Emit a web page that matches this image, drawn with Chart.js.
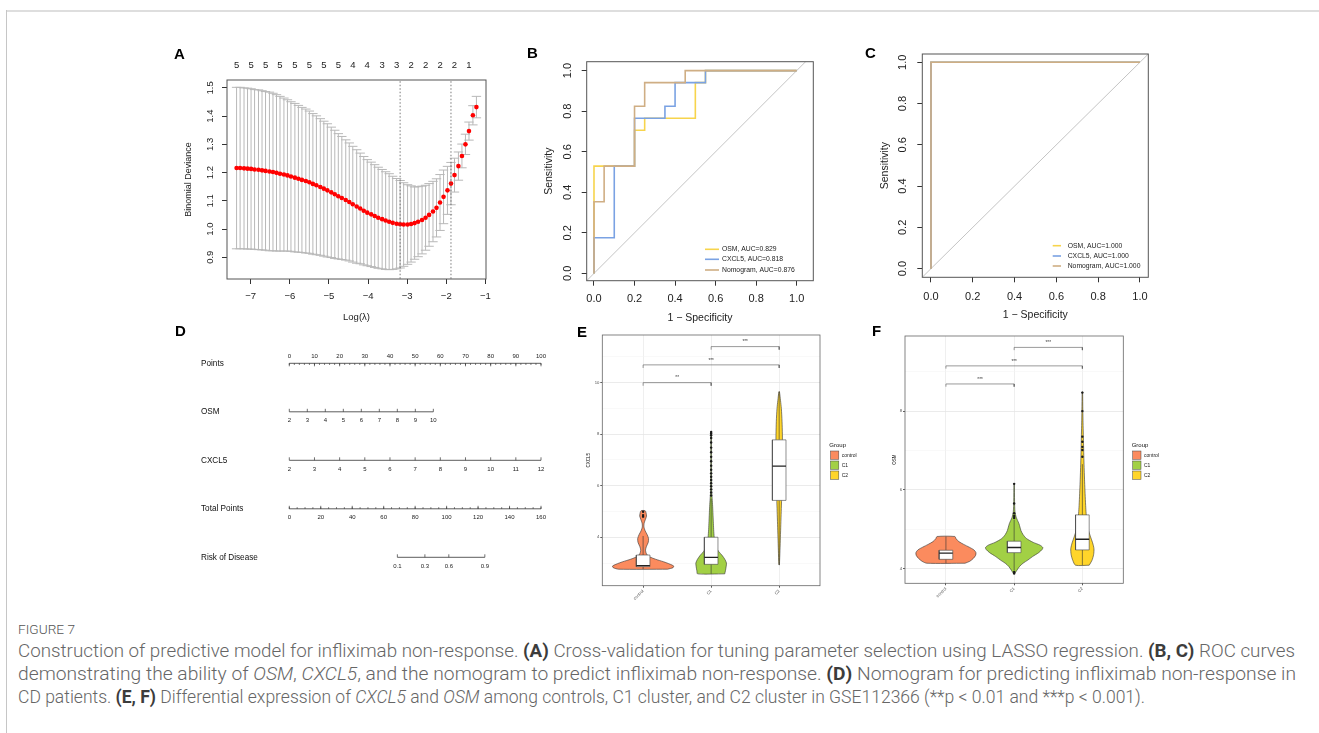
<!DOCTYPE html>
<html>
<head>
<meta charset="utf-8">
<title>Figure 7</title>
<script src="https://cdn.jsdelivr.net/npm/chart.js@4.4.1/dist/chart.umd.min.js"></script>
<style>
  html, body { margin: 0; padding: 0; background: #fff; }
  body { position: relative; width: 1319px; height: 733px; overflow: hidden; font-family: "Liberation Sans", Arial, sans-serif; }
  canvas { position: absolute; }
  .rule-top { position: absolute; left: 6px; top: 10px; width: 1313px; height: 2px; background: #dedede; }
  .rule-left { position: absolute; left: 6px; top: 10px; width: 1px; height: 723px; background: #c6c6c6; }
  .tag { position: absolute; font: bold 15px "Liberation Sans", Arial, sans-serif; line-height: 15px; color: #000; }
  #cap { position: absolute; left: 18px; top: 620px; color: #666; }
  #cap .fig { font: 300 13px Roboto, "Noto Sans", sans-serif; color: #555; white-space: nowrap; width: max-content; height: 20px; line-height: 20px; transform-origin: 0 50%; }
  #cap .ln { font: 300 17.5px Roboto, "Noto Sans", sans-serif; white-space: nowrap; width: max-content; line-height: 23px; transform-origin: 0 50%; }
  #cap .ln:first-of-type { margin-top: 2.5px; }
  #cap b { color: #3c3c3c; font-weight: 700; }
</style>
</head>
<body>
<div class="rule-top"></div>
<div class="rule-left"></div>

<canvas id="cA" width="340" height="290" style="left:160px;top:40px"></canvas>
<canvas id="cB" width="320" height="290" style="left:520px;top:40px"></canvas>
<canvas id="cC" width="320" height="290" style="left:860px;top:40px"></canvas>
<canvas id="cD" width="390" height="260" style="left:170px;top:330px"></canvas>
<canvas id="cE" width="300" height="280" style="left:570px;top:325px"></canvas>
<canvas id="cF" width="300" height="280" style="left:860px;top:325px"></canvas>

<div class="tag" style="left:174px;top:46px">A</div>
<div class="tag" style="left:527px;top:45px">B</div>
<div class="tag" style="left:865px;top:45px">C</div>
<div class="tag" style="left:175px;top:323px">D</div>
<div class="tag" style="left:577px;top:324px">E</div>
<div class="tag" style="left:872px;top:323px">F</div>

<div id="cap">
  <div class="fig">FIGURE 7</div>
  <div class="ln">Construction of predictive model for infliximab non-response. <b>(A)</b> Cross-validation for tuning parameter selection using LASSO regression. <b>(B, C)</b> ROC curves</div>
  <div class="ln">demonstrating the ability of <i>OSM</i>, <i>CXCL5</i>, and the nomogram to predict infliximab non-response. <b>(D)</b> Nomogram for predicting infliximab non-response in</div>
  <div class="ln">CD patients. <b>(E, F)</b> Differential expression of <i>CXCL5</i> and <i>OSM</i> among controls, C1 cluster, and C2 cluster in GSE112366 (**p &lt; 0.01 and ***p &lt; 0.001).</div>
</div>

<script>
// ---- A: LASSO cross-validation ----
const logLambda = [-7.36,-7.27,-7.17,-7.08,-6.99,-6.90,-6.80,-6.71,-6.62,-6.52,
  -6.43,-6.34,-6.25,-6.15,-6.06,-5.97,-5.87,-5.78,-5.69,-5.59,
  -5.50,-5.41,-5.32,-5.22,-5.13,-5.04,-4.94,-4.85,-4.76,-4.67,
  -4.57,-4.48,-4.39,-4.29,-4.20,-4.11,-4.02,-3.92,-3.83,-3.74,
  -3.64,-3.55,-3.46,-3.37,-3.27,-3.18,-3.09,-2.99,-2.90,-2.81,
  -2.72,-2.62,-2.53,-2.44,-2.34,-2.25,-2.16,-2.07,-1.97,-1.88,
  -1.79,-1.69,-1.60,-1.51,-1.42,-1.32,-1.23];
const cvm = [1.216,1.216,1.215,1.214,1.213,1.211,1.210,1.208,1.206,1.204,
  1.202,1.199,1.196,1.193,1.190,1.186,1.182,1.178,1.174,1.170,
  1.166,1.160,1.155,1.149,1.143,1.137,1.130,1.123,1.116,1.110,
  1.103,1.096,1.088,1.080,1.073,1.065,1.058,1.052,1.046,1.040,
  1.035,1.030,1.026,1.022,1.019,1.017,1.016,1.016,1.018,1.021,
  1.026,1.032,1.040,1.050,1.062,1.075,1.094,1.114,1.137,1.161,
  1.191,1.223,1.259,1.300,1.347,1.403,1.432];
const cvsd = [0.286,0.286,0.285,0.285,0.284,0.283,0.283,0.282,0.281,0.281,
  0.279,0.277,0.274,0.271,0.268,0.265,0.263,0.260,0.257,0.255,
  0.252,0.249,0.246,0.242,0.239,0.236,0.231,0.227,0.222,0.218,
  0.213,0.209,0.205,0.201,0.196,0.192,0.188,0.185,0.182,0.179,
  0.176,0.173,0.170,0.165,0.160,0.155,0.148,0.141,0.135,0.128,
  0.124,0.120,0.115,0.111,0.107,0.103,0.099,0.095,0.085,0.075,
  0.060,0.050,0.042,0.036,0.032,0.034,0.038];
const nzeroAt = [-7.36,-6.99,-6.62,-6.25,-5.87,-5.50,-5.13,-4.76,-4.39,-4.02,-3.64,-3.27,-2.90,-2.53,-2.16,-1.79,-1.42];
const nzeroTop = [5,5,5,5,5,5,5,5,4,4,3,3,2,2,2,2,1];
const lambdaMinLog = -3.18;
const lambda1seLog = -1.88;
const aXTicks = [-7,-6,-5,-4,-3,-2,-1];
const aYTicks = [0.9,1.0,1.1,1.2,1.3,1.4,1.5];

// ---- B, C: ROC curves (x = 1 - specificity, y = sensitivity) ----
const rocLabelsB = ['OSM, AUC=0.829','CXCL5, AUC=0.818','Nomogram, AUC=0.876'];
const osmFprB = [0,0,0.2,0.2,0.25,0.25,0.5,0.5,0.55,0.55,1];
const osmTprB = [0,0.529,0.529,0.706,0.706,0.765,0.765,0.941,0.941,1,1];
const cxclFprB = [0,0,0.1,0.1,0.2,0.2,0.35,0.35,0.4,0.4,0.55,0.55,1];
const cxclTprB = [0,0.176,0.176,0.529,0.529,0.765,0.765,0.824,0.824,0.941,0.941,1,1];
const nomoFprB = [0,0,0.05,0.05,0.2,0.2,0.25,0.25,0.45,0.45,1];
const nomoTprB = [0,0.353,0.353,0.529,0.529,0.824,0.824,0.941,0.941,1,1];
const rocLabelsC = ['OSM, AUC=1.000','CXCL5, AUC=1.000','Nomogram, AUC=1.000'];
const osmFprC = [0,0,1], osmTprC = [0,1,1];
const cxclFprC = [0,0,1], cxclTprC = [0,1,1];
const nomoFprC = [0,0,1], nomoTprC = [0,1,1];
const rocTicks = [0,0.2,0.4,0.6,0.8,1.0];

// ---- D: nomogram ----
const nomoRows = ['Points','OSM','CXCL5','Total Points','Risk of Disease'];
const pointsTicks = [0,10,20,30,40,50,60,70,80,90,100];
const osmTicks = [2,3,4,5,6,7,8,9,10];
const cxclTicks = [2,3,4,5,6,7,8,9,10,11,12];
const totalTicks = [0,20,40,60,80,100,120,140,160];
const riskLabels = [0.1,0.3,0.6,0.9];
const riskAtTotal = [68.7,86.2,101.4,124.3];

// ---- E, F: violins ----
const groups = ['control','C1','C2'];
const cxclDensControl = [[2.76,0.36],[2.82,0.44],[2.88,0.45],[2.95,0.40],[3.05,0.30],[3.15,0.18],[3.25,0.09],[3.35,0.05],[3.5,0.035],[3.65,0.05],[3.8,0.075],[3.95,0.08],[4.1,0.06],[4.25,0.03],[4.4,0.012],[4.55,0.015],[4.7,0.035],[4.82,0.05],[4.93,0.045],[5.03,0.03]];
const cxclDensC1 = [[2.58,0.20],[2.7,0.21],[2.85,0.22],[3.0,0.225],[3.15,0.2],[3.3,0.16],[3.45,0.11],[3.6,0.075],[3.8,0.055],[4.0,0.045],[4.3,0.037],[4.6,0.032],[4.9,0.027],[5.2,0.022],[5.5,0.015],[5.8,0.008],[6.5,0.006],[7.2,0.006],[7.8,0.005],[8.09,0.004]];
const cxclDensC2 = [[2.93,0.004],[3.5,0.012],[4.0,0.018],[4.5,0.024],[5.0,0.03],[5.5,0.036],[6.0,0.042],[6.5,0.045],[7.0,0.047],[7.5,0.048],[8.0,0.047],[8.5,0.042],[9.0,0.032],[9.3,0.02],[9.65,0.004]];
const cxclBox = [[2.76,2.86,2.90,3.31,4.05],[2.58,2.95,3.22,4.00,5.50],[2.93,5.43,6.76,7.78,9.65]];
const cxclOutControl = [4.80,4.86,4.99];
const cxclOutC1 = [5.62,5.74,5.86,5.98,6.10,6.22,6.35,6.48,6.62,6.78,6.95,7.12,7.30,7.48,7.68,7.85,7.96,8.03,8.09];
const cxclOutC2 = [];
const cxclSig = [[1,2,10.0,'**'],[1,3,10.69,'***'],[2,3,11.4,'***']];
const cxclYGrid = [3,4,5,6,7,8,9,10,11];

const osmDensControl = [[4.13,0.28],[4.18,0.35],[4.25,0.40],[4.33,0.435],[4.40,0.44],[4.47,0.41],[4.54,0.34],[4.61,0.26],[4.68,0.19],[4.75,0.15],[4.81,0.13]];
const osmDensC1 = [[3.87,0.01],[3.95,0.04],[4.05,0.08],[4.13,0.13],[4.21,0.2],[4.3,0.27],[4.4,0.36],[4.48,0.41],[4.53,0.42],[4.59,0.38],[4.66,0.28],[4.76,0.18],[4.86,0.13],[4.96,0.1],[5.05,0.085],[5.14,0.07],[5.22,0.05],[5.3,0.03],[5.45,0.012],[5.7,0.006],[6.15,0.003]];
const osmDensC2 = [[4.08,0.10],[4.2,0.14],[4.35,0.165],[4.5,0.17],[4.65,0.15],[4.8,0.12],[5.0,0.085],[5.2,0.065],[5.4,0.055],[5.6,0.048],[5.9,0.04],[6.2,0.033],[6.5,0.027],[6.8,0.022],[7.1,0.018],[7.4,0.014],[7.7,0.01],[8.0,0.007],[8.49,0.003]];
const osmBox = [[4.13,4.23,4.39,4.46,4.81],[3.95,4.40,4.53,4.69,5.23],[4.08,4.47,4.74,5.36,6.65]];
const osmOutControl = [];
const osmOutC1 = [3.87,3.91,5.28,5.33,5.40,5.65,6.15];
const osmOutC2 = [6.84,7.01,7.09,7.22,7.35,8.00,8.47];
const osmSig = [[1,2,8.69,'***'],[1,3,9.15,'***'],[2,3,9.62,'***']];
const osmYGrid = [4,5,6,7,8,9];

// ---- styles ----
const FONT = '"Liberation Sans", Arial, sans-serif';
const rocColors = ['#F7D44C','#7AA2E3','#CFAE84'];
const groupColors = ['#FB8B5E','#A2D045','#FFD52A'];

Chart.defaults.animation = false;
Chart.defaults.font.family = FONT;
Chart.defaults.color = '#222';
Chart.defaults.plugins.legend.display = false;
Chart.defaults.plugins.tooltip.enabled = false;
Chart.defaults.elements.point.radius = 0;
Chart.defaults.elements.line.tension = 0;

const fixW = w => s => { s.width = w; };
const fixH = h => s => { s.height = h; };
const setTicks = arr => s => { s.ticks = arr.map(v => ({ value: v })); };
const xy = (xs, ys) => xs.map((x, i) => ({ x, y: ys[i] }));

// box around the plotting region
const boxFrame = {
  id: 'boxFrame',
  afterDraw(chart, args, o) {
    if (!o.color) return;
    const a = chart.chartArea, c = chart.ctx;
    c.save();
    c.strokeStyle = o.color;
    c.lineWidth = o.width || 1;
    c.strokeRect(a.left, a.top, a.right - a.left, a.bottom - a.top);
    c.restore();
  }
};

// R style y labels (rotated, reading upwards)
const rotY = {
  id: 'rotY',
  afterDraw(chart, args, o) {
    if (o.x == null) return;
    const s = chart.scales.y, c = chart.ctx;
    c.save();
    c.font = o.font;
    c.fillStyle = '#222';
    c.textAlign = 'center';
    c.textBaseline = 'middle';
    s.ticks.forEach(t => {
      c.save();
      c.translate(o.x, s.getPixelForValue(t.value));
      c.rotate(-Math.PI / 2);
      c.fillText(t.value.toFixed(1), 0, 0);
      c.restore();
    });
    c.restore();
  }
};

const rocLegend = {
  id: 'rocLegend',
  afterDraw(chart, args, o) {
    if (!o.labels) return;
    const a = chart.chartArea, c = chart.ctx;
    c.save();
    c.font = o.font;
    c.textBaseline = 'middle';
    c.fillStyle = '#222';
    o.labels.forEach((t, i) => {
      const y = a.bottom + o.dy[i];
      c.strokeStyle = rocColors[i];
      c.lineWidth = 1.6;
      c.beginPath();
      c.moveTo(a.right + o.x0, y);
      c.lineTo(a.right + o.x1, y);
      c.stroke();
      c.fillText(t, a.right + o.tx, y);
    });
    c.restore();
  }
};

const nomoTicks = {
  id: 'nomoTicks',
  afterDatasetsDraw(chart, args, o) {
    if (!o.axes) return;
    const c = chart.ctx, ys = chart.scales.y;
    c.save();
    c.strokeStyle = '#333';
    c.fillStyle = '#222';
    c.lineWidth = 0.7;
    c.font = '6px ' + FONT;
    c.textAlign = 'center';
    c.textBaseline = 'middle';
    const seg = (x, y1, y2) => { c.beginPath(); c.moveTo(x, y1); c.lineTo(x, y2); c.stroke(); };
    o.axes.forEach(a => {
      const s = chart.scales[a.sc], y = ys.getPixelForValue(a.row);
      const dir = a.above ? 1 : -1;
      if (a.minorStep) {
        for (let v = a.at[0]; v <= a.at[a.at.length - 1] + 1e-9; v += a.minorStep) {
          seg(s.getPixelForValue(v), y, y + dir * 1.6);
        }
      }
      a.at.forEach((v, i) => {
        const x = s.getPixelForValue(v);
        seg(x, y, y + dir * 3);
        c.fillText(String(a.lab[i]), x, a.above ? y - 6.6 : y + 9);
      });
    });
    c.restore();
  }
};

const violinExtras = {
  id: 'violinExtras',
  afterDraw(chart, args, o) {
    if (!o.sig) return;
    const c = chart.ctx, xs = chart.scales.x, ys = chart.scales.y, a = chart.chartArea;
    c.save();
    c.fillStyle = '#333';
    c.font = '4.6px ' + FONT;
    c.textAlign = 'center';
    c.textBaseline = 'middle';
    o.sig.forEach(([g1, g2, y, txt]) => {
      c.fillText(txt, xs.getPixelForValue((g1 + g2) / 2), ys.getPixelForValue(y) - 4.5);
    });
    // legend
    c.textAlign = 'left';
    c.fillStyle = '#111';
    c.font = '6px ' + FONT;
    c.fillText('Group', a.right + o.titleX, 120);
    c.font = '5px ' + FONT;
    groups.forEach((g, i) => {
      const top = 126 + i * 10;
      c.fillStyle = groupColors[i];
      c.fillRect(a.right + o.keyX, top, 8.3, 8.3);
      c.strokeStyle = '#444';
      c.lineWidth = 0.5;
      c.strokeRect(a.right + o.keyX, top, 8.3, 8.3);
      c.fillStyle = '#222';
      c.fillText(g, a.right + o.labX, top + 4.3);
    });
    c.restore();
  }
};

Chart.register(boxFrame, rotY, rocLegend, nomoTicks, violinExtras);

// ---------- A ----------
const barW = 0.12;
const errData = [];
logLambda.forEach((x, i) => {
  const up = cvm[i] + cvsd[i], lo = cvm[i] - cvsd[i];
  errData.push({ x, y: lo }, { x, y: up }, { x, y: null },
    { x: x - barW, y: up }, { x: x + barW, y: up }, { x, y: null },
    { x: x - barW, y: lo }, { x: x + barW, y: lo }, { x, y: null });
});
const vline = v => [{ x: v, y: 0.7 }, { x: v, y: 1.7 }];

new Chart(document.getElementById('cA'), {
  type: 'line',
  data: {
    datasets: [
      { data: vline(lambdaMinLog), borderColor: '#555', borderWidth: 0.8, borderDash: [1.5, 2] },
      { data: vline(lambda1seLog), borderColor: '#555', borderWidth: 0.8, borderDash: [1.5, 2] },
      { data: xy(logLambda, cvm), showLine: false, pointRadius: 2.3, pointBackgroundColor: '#ff0000', pointBorderWidth: 0 },
      { data: errData, borderColor: '#b8b8b8', borderWidth: 1 }
    ]
  },
  options: {
    responsive: false,
    layout: { padding: { right: 14 } },
    scales: {
      x: {
        type: 'linear', min: -7.605, max: -0.985,
        afterBuildTicks: setTicks(aXTicks), afterFit: fixH(51),
        grid: { drawOnChartArea: false, tickLength: 5, tickColor: '#333' },
        border: { display: false },
        ticks: { font: { size: 9.5 }, padding: 6.7, color: '#222', callback: v => String(v).replace('-', '\u2212') },
        title: { display: true, text: 'Log(\u03bb)', font: { size: 9.5 }, color: '#222', padding: { top: 0, bottom: 7.3 } }
      },
      x2: {
        type: 'linear', position: 'top', min: -7.605, max: -0.985,
        afterBuildTicks: setTicks(nzeroAt), afterFit: fixH(40),
        grid: { display: false, drawTicks: false },
        border: { display: false },
        ticks: { font: { size: 9.5 }, padding: 9, color: '#222', autoSkip: false, maxRotation: 0, callback: (v, i) => nzeroTop[i] }
      },
      y: {
        type: 'linear', min: 0.823, max: 1.528,
        afterBuildTicks: setTicks(aYTicks), afterFit: fixW(67),
        grid: { drawOnChartArea: false, tickLength: 5, tickColor: '#333' },
        border: { display: false },
        ticks: { display: false },
        title: { display: true, text: 'Binomial Deviance', font: { size: 9 }, color: '#222', padding: { top: 23.6, bottom: 0 } }
      }
    },
    plugins: { boxFrame: { color: '#555' }, rotY: { x: 50, font: '9.5px ' + FONT } }
  }
});

// ---------- B, C ----------
function rocChart(id, cfg) {
  new Chart(document.getElementById(id), {
    type: 'line',
    data: {
      datasets: [
        { data: xy(cfg.nomo[0], cfg.nomo[1]), borderColor: rocColors[2], borderWidth: 1.6 },
        { data: xy(cfg.cxcl[0], cfg.cxcl[1]), borderColor: rocColors[1], borderWidth: 1.6 },
        { data: xy(cfg.osm[0], cfg.osm[1]), borderColor: rocColors[0], borderWidth: 1.6 },
        { data: [{ x: -0.2, y: -0.2 }, { x: 1.2, y: 1.2 }], borderColor: '#bdbdbd', borderWidth: 0.9 }
      ]
    },
    options: {
      responsive: false,
      layout: { padding: { top: cfg.top, right: cfg.right } },
      scales: {
        x: {
          type: 'linear', min: cfg.xr[0], max: cfg.xr[1],
          afterBuildTicks: setTicks(rocTicks), afterFit: fixH(cfg.xh),
          grid: { drawOnChartArea: false, tickLength: 5, tickColor: '#333' },
          border: { display: false },
          ticks: { font: { size: 11 }, padding: cfg.xpad, color: '#222', callback: v => v.toFixed(1) },
          title: { display: true, text: '1 \u2212 Specificity', font: { size: 10.5 }, color: '#222', padding: { top: 0, bottom: cfg.xtpad } }
        },
        y: {
          type: 'linear', min: cfg.yr[0], max: cfg.yr[1],
          afterBuildTicks: setTicks(rocTicks), afterFit: fixW(cfg.yw),
          grid: { drawOnChartArea: false, tickLength: 5, tickColor: '#333' },
          border: { display: false },
          ticks: { display: false },
          title: { display: true, text: 'Sensitivity', font: { size: 10.5 }, color: '#222', padding: { top: cfg.ytpad, bottom: 0 } }
        }
      },
      plugins: {
        boxFrame: { color: '#555' },
        rotY: { x: cfg.ylx, font: '11px ' + FONT },
        rocLegend: { labels: cfg.labels, font: '6.8px ' + FONT, x0: cfg.lg[0], x1: cfg.lg[1], tx: cfg.lg[2], dy: cfg.lgy }
      }
    }
  });
}

rocChart('cB', {
  osm: [osmFprB, osmTprB], cxcl: [cxclFprB, cxclTprB], nomo: [nomoFprB, nomoTprB], labels: rocLabelsB,
  xr: [-0.036, 1.082], yr: [-0.036, 1.044], top: 21.7, right: 26.7, xh: 49.3, yw: 66.7,
  xpad: 7, xtpad: 5.7, ytpad: 22.7, ylx: 48.3,
  lg: [-108.3, -94.3, -91.3], lgy: [-31.4, -21.4, -10.7]
});
rocChart('cC', {
  osm: [osmFprC, osmTprC], cxcl: [cxclFprC, cxclTprC], nomo: [nomoFprC, nomoTprC], labels: rocLabelsC,
  xr: [-0.0415, 1.04], yr: [-0.042, 1.04], top: 14, right: 31.7, xh: 52.7, yw: 62.3,
  xpad: 7.8, xtpad: 8.7, ytpad: 18.7, ylx: 42.7,
  lg: [-95.6, -87.3, -80.6], lgy: [-31.6, -21.3, -11.3]
});

// ---------- D ----------
const nomoAxes = [
  { sc: 'pts', row: 0, at: pointsTicks, lab: pointsTicks, minorStep: 2, above: true },
  { sc: 'osm', row: 1, at: osmTicks, lab: osmTicks },
  { sc: 'cx', row: 2, at: cxclTicks, lab: cxclTicks },
  { sc: 'tot', row: 3, at: totalTicks, lab: totalTicks, minorStep: 5 },
  { sc: 'tot', row: 4, at: riskAtTotal, lab: riskLabels }
];
new Chart(document.getElementById('cD'), {
  type: 'line',
  data: {
    datasets: nomoAxes.map(a => ({
      xAxisID: a.sc,
      data: [{ x: a.at[0], y: a.row }, { x: a.at[a.at.length - 1], y: a.row }],
      borderColor: '#333', borderWidth: 0.8, clip: false
    }))
  },
  options: {
    responsive: false,
    layout: { padding: { left: 31, right: 19, top: 33.3, bottom: 8.45 } },
    scales: {
      pts: { type: 'linear', axis: 'x', min: 0, max: 100, display: false },
      osm: { type: 'linear', axis: 'x', min: 2, max: 15.98, display: false },
      cx: { type: 'linear', axis: 'x', min: 2, max: 12, display: false },
      tot: { type: 'linear', axis: 'x', min: 0, max: 160, display: false },
      y: {
        type: 'linear', reverse: true, min: 0, max: 4.5,
        afterBuildTicks: setTicks([0, 1, 2, 3, 4]), afterFit: fixW(88.3),
        grid: { display: false, drawTicks: false },
        border: { display: false },
        ticks: { crossAlign: 'far', padding: 0, font: { size: 8.2 }, color: '#111', callback: (v, i) => nomoRows[i] }
      }
    },
    plugins: { nomoTicks: { axes: nomoAxes } }
  }
});

// ---------- E, F ----------
function violinPts(dens, cx) {
  const right = dens.map(([y, w]) => ({ x: cx + w, y }));
  const left = dens.slice().reverse().map(([y, w]) => ({ x: cx - w, y }));
  return right.concat(left, [right[0]]);
}

function violinChart(id, v) {
  const ds = [];
  ds.push({ data: v.out.flatMap((arr, g) => arr.map(y => ({ x: g + 1, y }))), showLine: false, pointRadius: 1.2, pointBackgroundColor: '#1a1a1a', pointBorderWidth: 0 });
  ds.push({ data: v.box.flatMap((b, g) => [{ x: g + 0.9, y: b[2] }, { x: g + 1.1, y: b[2] }, { x: g + 1, y: null }]), borderColor: '#222', borderWidth: 1.3 });
  v.box.forEach((b, g) => ds.push({
    data: [{ x: g + 0.9, y: b[1] }, { x: g + 1.1, y: b[1] }, { x: g + 1.1, y: b[3] }, { x: g + 0.9, y: b[3] }, { x: g + 0.9, y: b[1] }],
    fill: 'shape', backgroundColor: '#ffffff', borderColor: '#444', borderWidth: 0.6
  }));
  ds.push({
    data: v.box.flatMap((b, g) => [{ x: g + 1, y: b[0] }, { x: g + 1, y: b[1] }, { x: g + 1, y: null }, { x: g + 1, y: b[3] }, { x: g + 1, y: b[4] }, { x: g + 1, y: null }]),
    borderColor: '#333', borderWidth: 0.6
  });
  ds.push({
    data: v.sig.flatMap(([g1, g2, y]) => [{ x: g1, y: y - v.drop }, { x: g1, y }, { x: g2, y }, { x: g2, y: y - v.drop }, { x: g2, y: null }]),
    borderColor: '#555', borderWidth: 0.6, clip: false
  });
  v.dens.forEach((d, g) => ds.push({
    data: violinPts(d, g + 1), fill: 'shape', backgroundColor: groupColors[g],
    borderColor: '#333', borderWidth: 0.6, tension: 0.25
  }));

  new Chart(document.getElementById(id), {
    type: 'line',
    data: { datasets: ds },
    options: {
      responsive: false,
      layout: { padding: { top: v.top, right: v.right, left: 0, bottom: 0 } },
      scales: {
        x: {
          type: 'linear', min: 0.4, max: 3.6,
          afterBuildTicks: setTicks([1, 2, 3]), afterFit: fixH(v.xh),
          grid: { color: '#EBEBEB', lineWidth: 0.8, tickLength: 2, tickColor: '#333' },
          border: { display: false },
          ticks: { font: { size: 4.2 }, color: '#4d4d4d', padding: 1, minRotation: 45, maxRotation: 45, autoSkip: false, callback: (val, i) => groups[i] }
        },
        y: {
          type: 'linear', min: v.yr[0], max: v.yr[1],
          afterBuildTicks: setTicks(v.grid), afterFit: fixW(v.yw),
          grid: {
            color: c => (c.tick && c.tick.value % 2 === 0) ? '#E6E6E6' : '#F3F3F3',
            lineWidth: c => (c.tick && c.tick.value % 2 === 0) ? 0.8 : 0.5,
            tickLength: 2,
            tickColor: c => (c.tick && c.tick.value % 2 === 0) ? '#333' : 'rgba(0,0,0,0)'
          },
          border: { display: false },
          ticks: { font: { size: 4.2 }, color: '#4d4d4d', padding: 1, callback: val => (val % 2 === 0 ? String(val) : '') },
          title: { display: true, text: v.title, font: { size: 4.5 }, color: '#111', padding: { top: v.ytpad, bottom: 0 } }
        }
      },
      plugins: {
        boxFrame: { color: '#666', width: 0.8 },
        violinExtras: { sig: v.sig, titleX: v.leg[0], keyX: v.leg[1], labX: v.leg[2] }
      }
    }
  });
}

violinChart('cE', {
  dens: [cxclDensControl, cxclDensC1, cxclDensC2], box: cxclBox,
  out: [cxclOutControl, cxclOutC1, cxclOutC2], sig: cxclSig, drop: 0.12,
  yr: [2.12, 11.85], grid: cxclYGrid, title: 'CXCL5',
  top: 10, right: 50, xh: 19.3, yw: 32.3, ytpad: 16.3, leg: [9.3, 10.5, 21.7]
});
violinChart('cF', {
  dens: [osmDensControl, osmDensC1, osmDensC2], box: osmBox,
  out: [osmOutControl, osmOutC1, osmOutC2], sig: osmSig, drop: 0.07,
  yr: [3.62, 9.91], grid: osmYGrid, title: 'OSM',
  top: 11, right: 36.7, xh: 21.7, yw: 45, ytpad: 31.6, leg: [8.4, 9.4, 20.7]
});

// ---------- caption widths (fit each line to the width it takes in the figure) ----------
const capWidths = [1277, 1278, 1127];
document.querySelectorAll('#cap .ln').forEach((l, i) => {
  l.style.transform = 'scaleX(' + (capWidths[i] / l.getBoundingClientRect().width) + ')';
});
const fig = document.querySelector('#cap .fig');
fig.style.transform = 'scaleX(' + (57 / fig.getBoundingClientRect().width) + ')';
</script>
</body>
</html>
